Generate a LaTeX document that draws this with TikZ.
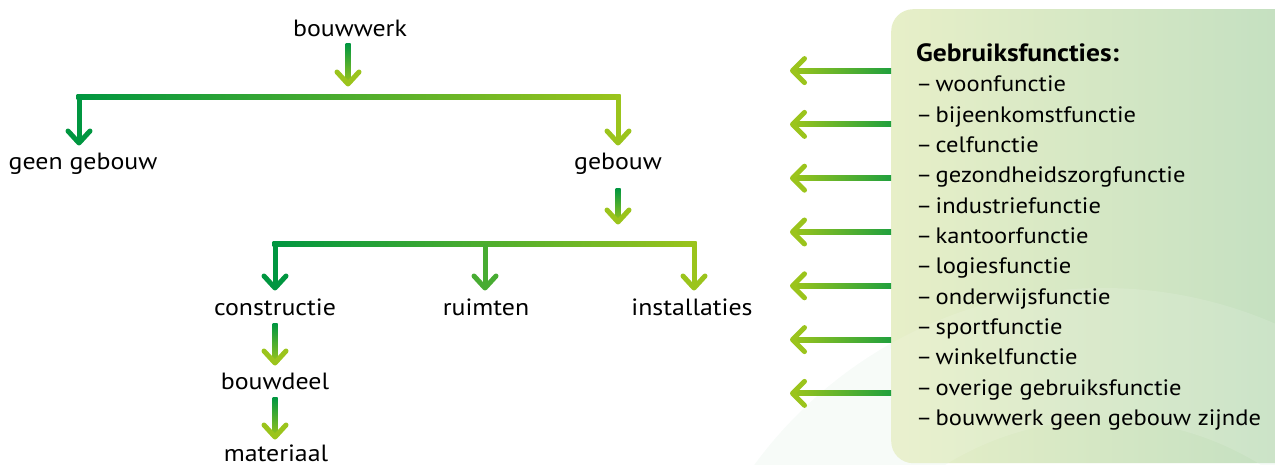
\documentclass[tikz,border=0pt]{standalone}
\usepackage{fontspec}
\setmainfont{PT Sans}[FakeStretch=1.1]
\usetikzlibrary{calc}
\definecolor{gDark}{RGB}{0,150,64}
\definecolor{gMidBar}{RGB}{45,166,52}
\definecolor{gLime}{RGB}{155,196,28}
\definecolor{gMid}{RGB}{72,172,50}
\definecolor{gTail}{RGB}{32,160,62}
\definecolor{pLeft}{RGB}{231,239,200}
\definecolor{pRight}{RGB}{192,222,192}
\newcommand\chevD[2]{\draw[chev,#2] ($(#1)+(-11,-12)$) -- (#1) -- ($(#1)+(11,-12)$);}
\newcommand\chevL[2]{\draw[chev,#2] ($(#1)+(12,-12)$) -- (#1) -- ($(#1)+(12,12)$);}
\newcommand\listdash{\makebox[19.5pt][l]{–}}
\begin{document}
\begin{tikzpicture}[x=1pt,y=-1pt,
  lbl/.style={anchor=base, inner sep=0pt, font=\fontsize{23.5}{28}\selectfont},
  itm/.style={anchor=base west, inner sep=0pt, font=\fontsize{22.3}{27}\selectfont},
  hdr/.style={anchor=base west, inner sep=0pt, font=\fontsize{25}{30}\selectfont\bfseries},
  chev/.style={line width=5pt, line cap=round, line join=round},
  stem/.style={line width=5pt},
  panelbox/.style={anchor=north west, minimum width=440pt, minimum height=454pt, rounded corners=22pt, shade, left color=pLeft, right color=pRight, inner sep=0pt}
]
\useasboundingbox (0,0) rectangle (1275,465);
\fill[white] (0,0) rectangle (1275,465);
% faint watermark
\begin{scope}
\clip (0,0) rectangle (1275,465);
\fill[gDark, opacity=0.035, even odd rule] (1103,720) circle (432) (1103,720) circle (300);
\end{scope}

% panel
\node[panelbox] (panel) at (891,9) {};
\begin{scope}
\clip (0,0) rectangle (1275,465);
\fill[white, opacity=0.12, even odd rule] (1103,720) circle (432) (1103,720) circle (300);
\end{scope}

% tree nodes
\node[lbl] (bw) at (350,37) {bouwwerk};
\node[lbl] (ggb) at (83,170) {geen gebouw};
\node[lbl] (gb) at (618,170) {gebouw};
\node[lbl] (con) at (275,315) {constructie};
\node[lbl] (ruim) at (486,315) {ruimten};
\node[lbl] (inst) at (692,315) {installaties};
\node[lbl] (bd) at (275,389) {bouwdeel};
\node[lbl] (mat) at (276,461) {materiaal};

% level 1
\coordinate (t1) at (348,84);
\coordinate (l1) at (79,97);
\coordinate (r1) at (618,97);
\coordinate (tl1) at (79,143);
\coordinate (tr1) at (618,143);
\shade[top color=gDark, bottom color=gLime] ($(bw.south -| t1)+(-2.5,6)$) rectangle ($(t1)+(2.5,0)$);
\chevD{t1}{gLime}
\shade[left color=gDark, middle color=gMidBar, right color=gLime] ($(l1)+(-2.5,-2.5)$) rectangle ($(r1)+(2.5,2.5)$);
\draw[stem, gDark] (l1) -- (tl1);
\chevD{tl1}{gDark}
\draw[stem, gLime] (r1) -- (tr1);
\chevD{tr1}{gLime}

% level 2
\coordinate (t2) at (618,222);
\coordinate (l2) at (275,244);
\coordinate (m2) at (485,244);
\coordinate (r2) at (694,244);
\coordinate (tl2) at (275,288);
\coordinate (tm2) at (485,288);
\coordinate (tr2) at (694,288);
\shade[top color=gDark, bottom color=gLime] ($(gb.south -| t2)+(-2.5,13)$) rectangle ($(t2)+(2.5,0)$);
\chevD{t2}{gLime}
\shade[left color=gDark, middle color=gMidBar, right color=gLime] ($(l2)+(-2.5,-2.5)$) rectangle ($(r2)+(2.5,2.5)$);
\draw[stem, gDark] (l2) -- (tl2);
\chevD{tl2}{gDark}
\draw[stem, gMid] (m2) -- (tm2);
\chevD{tm2}{gMid}
\draw[stem, gLime] (r2) -- (tr2);
\chevD{tr2}{gLime}

% level 3
\coordinate (t3) at (275,363);
\coordinate (t4) at (275,437);
\shade[top color=gDark, bottom color=gLime] ($(con.south -| t3)+(-2.5,8)$) rectangle ($(t3)+(2.5,0)$);
\chevD{t3}{gLime}
\shade[top color=gDark, bottom color=gLime] ($(bd.south -| t4)+(-2.5,8)$) rectangle ($(t4)+(2.5,0)$);
\chevD{t4}{gLime}

% left arrows from panel
\foreach \k in {0,...,6}{
  \coordinate (a\k) at (792.5,{70.6+53.8*\k});
  \shade[left color=gLime, right color=gTail] ($(a\k)+(0,-2.5)$) rectangle ($(panel.west |- a\k)+(0,2.5)$);
  \chevL{a\k}{gLime}
}

% list
\node[hdr] (hd) at (916,62) {Gebruiksfuncties:};
\foreach [count=\i from 0] \t in {woonfunctie,bijeenkomstfunctie,celfunctie,gezondheidszorgfunctie,industriefunctie,kantoorfunctie,logiesfunctie,onderwijsfunctie,sportfunctie,winkelfunctie,overige gebruiksfunctie,bouwwerk geen gebouw zijnde}{
  \node[itm] (li\i) at (916,{92+30.3*\i}) {\listdash\t};
}
\end{tikzpicture}
\end{document}
